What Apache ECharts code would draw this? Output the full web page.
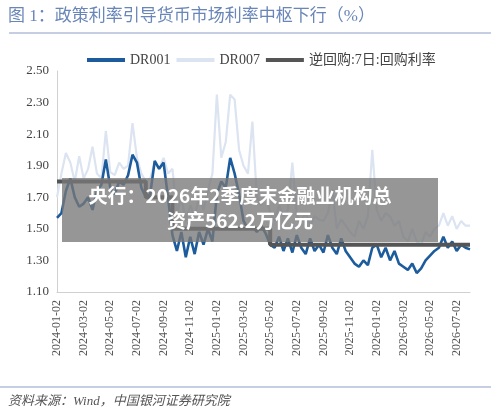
<!DOCTYPE html>
<html><head><meta charset="utf-8">
<script src="https://cdn.jsdelivr.net/npm/echarts@6/dist/echarts.min.js"></script>
<style>html,body{margin:0;padding:0;background:#fff}#c{width:500px;height:420px}</style>
</head><body><div id="c"></div>
<script>
const months = [];
for (let y = 2024; y <= 2026; y++) for (let m = 1; m <= 12; m++) {
  if (y === 2026 && m > 7) break;
  months.push(y + '-' + String(m).padStart(2, '0'));
}
const days = ['02', '12', '22'];
const categories = [];
months.forEach(mm => days.forEach(d => categories.push(mm + '-' + d)));
categories.push('2026-08-02');

const tickLabels = ['2024-01-02','2024-03-02','2024-05-02','2024-07-02','2024-09-02','2024-11-02',
  '2025-01-02','2025-03-02','2025-05-02','2025-07-02','2025-09-02','2025-11-02',
  '2026-01-02','2026-03-02','2026-05-02','2026-07-02'];

const dr001 = [
 1.57,1.60,1.74, 1.82,1.70,1.64, 1.66,1.70,1.62, 1.74,1.78,1.94, 1.76,1.72,1.80, 1.78,1.84,1.97,
 1.92,1.76,1.70, 1.72,1.93,1.88, 1.92,1.70,1.46, 1.36,1.48,1.32, 1.45,1.34,1.48, 1.40,1.50,1.42,
 1.72,1.80,1.76, 1.95,1.85,1.72, 1.55,1.50,1.52, 1.48,1.52,1.47, 1.40,1.38,1.45, 1.36,1.44,1.35,
 1.46,1.38,1.34, 1.44,1.36,1.40, 1.35,1.46,1.38, 1.34,1.44,1.36, 1.32,1.28,1.26, 1.30,1.27,1.38,
 1.40,1.32,1.38, 1.30,1.36,1.28, 1.26,1.24,1.28, 1.22,1.25,1.30, 1.33,1.36,1.38, 1.45,1.38,1.42,
 1.36,1.40,1.38, 1.37];
const dr007 = [
 1.70,1.85,1.98, 1.92,1.80,1.96, 1.82,1.88,2.02, 1.85,1.82,2.12, 1.86,1.84,1.92, 1.88,1.90,2.17,
 1.95,1.85,1.80, 1.82,1.92,1.88, 1.95,1.85,1.88, 1.60,1.70,1.55, 1.65,1.58,1.70, 1.62,1.75,1.85,
 2.35,1.95,2.05, 2.35,2.32,2.00, 1.90,1.85,2.18, 1.70,1.65,1.72, 1.60,1.55,1.65, 1.58,1.62,1.92,
 1.58,1.55,1.60, 1.52,1.58,1.56, 1.55,1.60,1.75, 1.50,1.56,1.52, 1.48,1.45,1.55, 1.50,1.58,2.00,
 1.62,1.55,1.60, 1.58,1.52,1.55, 1.45,1.42,1.50, 1.42,1.40,1.48, 1.45,1.50,1.52, 1.60,1.52,1.58,
 1.50,1.55,1.52, 1.52];
const repoSteps = [['2024-01-02', 1.80], ['2024-07-22', 1.70], ['2024-09-22', 1.50], ['2025-05-02', 1.40]];
const repo = categories.map(c => { let v = null; repoSteps.forEach(s => { if (c >= s[0]) v = s[1]; }); return v; });

const serif = 'Liberation Serif, Noto Sans CJK SC';
const chart = echarts.init(document.getElementById('c'));
chart.setOption({
  animation: false,
  legend: {
    top: 48, left: 82, itemGap: 6, itemWidth: 38, itemHeight: 4,
    textStyle: {fontFamily: serif, fontSize: 14, color: '#444'},
    data: [
      {name: 'DR001', icon: 'rect'},
      {name: 'DR007', icon: 'rect'},
      {name: '逆回购:7日:回购利率', icon: 'rect', itemStyle: {color: '#555'}}
    ]
  },
  grid: {left: 57, right: 30, top: 71, bottom: 128},
  xAxis: {
    type: 'category', data: categories, boundaryGap: false,
    axisLine: {lineStyle: {color: '#d0d0d0'}}, axisTick: {show: false},
    axisLabel: {rotate: 90, interval: 0, fontFamily: serif, fontSize: 12, color: '#555',
      formatter: v => tickLabels.includes(v) ? v : ''}
  },
  yAxis: {
    type: 'value', min: 1.1, max: 2.5, interval: 0.2,
    axisLine: {show: true, lineStyle: {color: '#d0d0d0'}}, axisTick: {show: false},
    splitLine: {show: false},
    axisLabel: {fontFamily: serif, fontSize: 13, color: '#444', formatter: v => v.toFixed(2)}
  },
  series: [
    {name: 'DR007', type: 'line', data: dr007, symbol: 'none', z: 1,
     lineStyle: {color: '#dce4f1', width: 2.2}, itemStyle: {color: '#dce4f1'}},
    {name: 'DR001', type: 'line', data: dr001, symbol: 'none', z: 2,
     lineStyle: {color: '#1c5c9c', width: 2.6}, itemStyle: {color: '#1c5c9c'}},
    {name: '逆回购:7日:回购利率', type: 'line', step: 'end', data: repo, symbol: 'none', z: 3,
     lineStyle: {color: '#555', width: 4}, itemStyle: {color: '#555'}}
  ],
  graphic: [
    {type: 'text', left: 8, top: 8, style: {text: '图 1：政策利率引导货币市场利率中枢下行（%）', fontFamily: serif, fontSize: 17, fill: '#6a86b8'}},
    {type: 'line', shape: {x1: 9, y1: 33, x2: 491, y2: 33}, style: {stroke: '#8b9dc6', lineWidth: 1.2}},
    {type: 'line', shape: {x1: 0, y1: 387, x2: 491, y2: 387}, style: {stroke: '#8b9dc6', lineWidth: 1.2}},
    {type: 'text', left: 8, top: 395, style: {text: '资料来源：Wind，中国银河证券研究院', fontFamily: serif, fontSize: 13, fontStyle: 'italic', fill: '#555'}},
    {type: 'rect', shape: {x: 62, y: 178, width: 376, height: 64}, style: {fill: 'rgba(120,120,120,0.78)'}, z: 100},
    {type: 'text', x: 240, y: 196, z: 101, style: {text: '央行：2026年2季度末金融业机构总', fontFamily: 'Noto Sans CJK SC', fontWeight: 'bold', fontSize: 19, fill: '#fff', align: 'center', verticalAlign: 'middle'}},
    {type: 'text', x: 240, y: 221, z: 101, style: {text: '资产562.2万亿元', fontFamily: 'Noto Sans CJK SC', fontWeight: 'bold', fontSize: 19, fill: '#fff', align: 'center', verticalAlign: 'middle'}}
  ]
});
</script></body></html>
